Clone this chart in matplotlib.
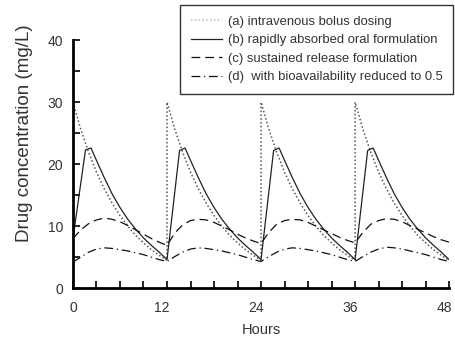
import matplotlib
matplotlib.use('Agg')
import matplotlib.pyplot as plt
import matplotlib.transforms as mtransforms

plt.rcParams['font.family'] = ['Liberation Sans', 'DejaVu Sans']

# (a) intravenous bolus dosing (dose every 12 h, vertical jump at dosing)
iv_hours = [0, 1, 2, 3, 4, 5, 6, 7, 8, 9, 10, 11, 12,
            12, 13, 14, 15, 16, 17, 18, 19, 20, 21, 22, 23, 24,
            24, 25, 26, 27, 28, 29, 30, 31, 32, 33, 34, 35, 36,
            36, 37, 38, 39, 40, 41, 42, 43, 44, 45, 46, 47, 48]
iv_conc = [30, 25.6, 21.9, 18.7, 16.0, 13.7, 11.7, 10.0, 8.5, 7.3, 6.2, 5.3, 4.5,
           30, 25.6, 21.9, 18.7, 16.0, 13.7, 11.7, 10.0, 8.5, 7.3, 6.2, 5.3, 4.5,
           30, 25.6, 21.9, 18.7, 16.0, 13.7, 11.7, 10.0, 8.5, 7.3, 6.2, 5.3, 4.5,
           30, 25.6, 21.9, 18.7, 16.0, 13.7, 11.7, 10.0, 8.5, 7.3, 6.2, 5.3, 4.5]

# (b) rapidly absorbed oral formulation
oral_hours = [0, 1.6, 2.3, 3, 4, 5, 6, 7, 8, 9, 10, 11, 12,
              13.6, 14.3, 15, 16, 17, 18, 19, 20, 21, 22, 23, 24,
              25.6, 26.3, 27, 28, 29, 30, 31, 32, 33, 34, 35, 36,
              37.6, 38.3, 39, 40, 41, 42, 43, 44, 45, 46, 47, 48]
oral_conc = [8.0, 22.3, 22.6, 20.6, 17.8, 15.2, 13.0, 11.1, 9.5, 8.1, 6.9, 5.8, 4.6,
             22.2, 22.6, 20.6, 17.8, 15.2, 13.0, 11.1, 9.5, 8.1, 6.9, 5.8, 4.6,
             22.2, 22.6, 20.6, 17.8, 15.2, 13.0, 11.1, 9.5, 8.1, 6.9, 5.8, 4.6,
             22.2, 22.6, 20.6, 17.8, 15.2, 13.0, 11.1, 9.5, 8.1, 6.9, 5.8, 4.6]

hours = list(range(49))

# (c) sustained release formulation
sr_conc = [8.0, 9.4, 10.4, 11.0, 11.3, 11.1, 10.7, 10.1, 9.4, 8.7, 8.0, 7.4, 6.9,
           8.9, 10.2, 10.9, 11.1, 11.0, 10.6, 10.0, 9.4, 8.7, 8.1, 7.6, 7.2,
           9.0, 10.3, 10.9, 11.1, 11.0, 10.6, 10.0, 9.4, 8.8, 8.2, 7.7, 7.3,
           9.0, 10.3, 10.9, 11.2, 11.1, 10.7, 10.1, 9.5, 8.9, 8.3, 7.8, 7.4]

# (d) with bioavailability reduced to 0.5
half_conc = [4.2, 5.0, 5.8, 6.3, 6.5, 6.4, 6.2, 6.0, 5.7, 5.4, 5.0, 4.6, 4.3,
             5.1, 5.8, 6.3, 6.5, 6.4, 6.2, 6.0, 5.7, 5.4, 5.0, 4.6, 4.3,
             5.1, 5.8, 6.3, 6.5, 6.4, 6.2, 6.0, 5.7, 5.4, 5.0, 4.6, 4.3,
             5.1, 5.8, 6.3, 6.6, 6.5, 6.3, 6.0, 5.7, 5.4, 5.0, 4.6, 4.3]

labels = ['(a) intravenous bolus dosing',
          '(b) rapidly absorbed oral formulation',
          '(c) sustained release formulation',
          '(d)  with bioavailability reduced to 0.5']

fig = plt.figure(figsize=(4.56, 3.43), dpi=100)
ax = fig.add_axes([0.160, 0.160, 0.825, 0.723])

ax.plot(iv_hours, iv_conc, color='#555555', linestyle=(0, (1, 1.5)), linewidth=1.1, label=labels[0])
ax.plot(oral_hours, oral_conc, color='#222222', linestyle='-', linewidth=0.9, label=labels[1])
ax.plot(hours, sr_conc, color='#111111', linestyle=(0, (7, 4)), linewidth=0.9, label=labels[2])
ax.plot(hours, half_conc, color='#111111', linestyle=(0, (7, 3, 1, 3)), linewidth=0.9, label=labels[3])

ax.set_xlim(0, 48)
ax.set_ylim(0, 40)
ax.set_xticks([0, 12, 24, 36, 48])
ax.set_xticks(range(0, 49, 3), minor=True)
ax.set_yticks([0, 10, 20, 30, 40])
ax.set_yticks([5, 15, 25, 35], minor=True)
ax.tick_params(which='both', direction='in', width=1.2, length=5, colors='black',
               labelcolor='#333333', labelsize=10)
ax.tick_params(axis='y', pad=7)
ax.tick_params(axis='x', pad=9)

# tick labels (except 0) sit a little left of their ticks in the original
shift = mtransforms.ScaledTranslation(-5 / 100, 0, fig.dpi_scale_trans)
for lab in ax.get_xticklabels()[1:]:
    lab.set_transform(lab.get_transform() + shift)

for side in ['top', 'right']:
    ax.spines[side].set_visible(False)
for side in ['left', 'bottom']:
    ax.spines[side].set_linewidth(2)

ax.set_xlabel('Hours', fontsize=10.5, color='#333333', labelpad=6)
ax.set_ylabel('Drug concentration (mg/L)', fontsize=13.5, color='#333333')
ax.yaxis.set_label_coords(-0.105, 0.625)

leg = fig.legend(loc='upper right', bbox_to_anchor=(0.993, 0.985), borderaxespad=0,
                 fontsize=9.35, frameon=True, fancybox=False, handlelength=2.4,
                 handletextpad=0.45, labelspacing=0.5, borderpad=0.8)
leg.get_frame().set_edgecolor('black')
leg.get_frame().set_linewidth(1)
for t in leg.get_texts():
    t.set_color('#333333')
leg.get_lines()[0].set_color('#bbbbbb')

fig.savefig('out.png', dpi=100)
